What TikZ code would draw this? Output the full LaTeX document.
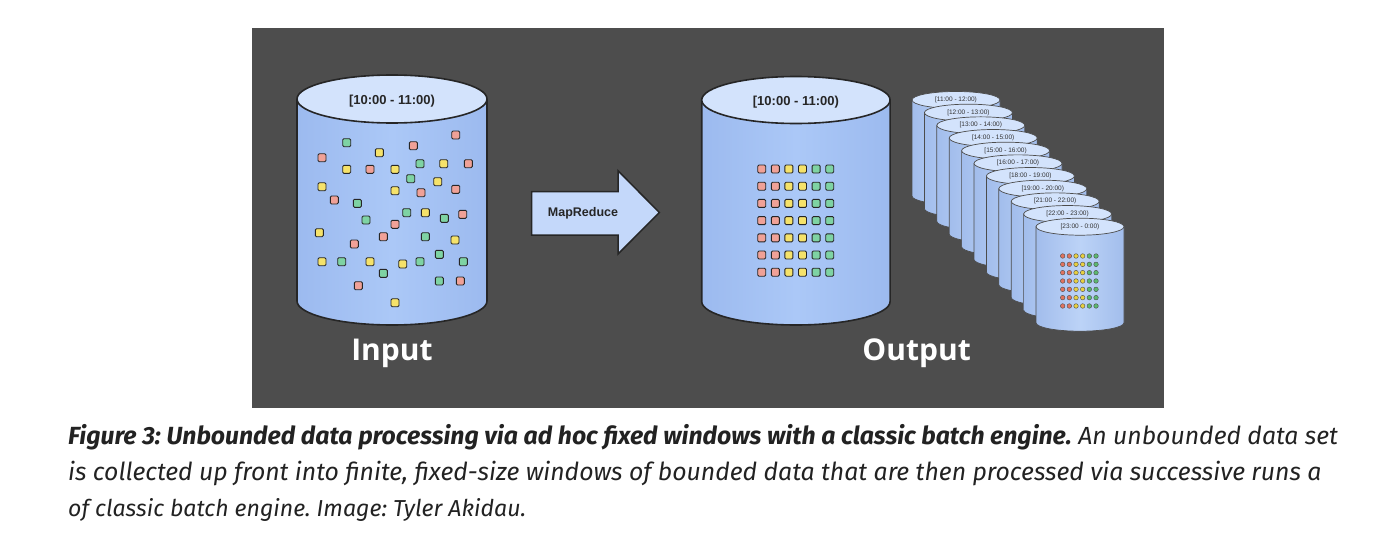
\documentclass[tikz,border=0pt]{standalone}
\usepackage{fontspec}
\setmainfont{Fira Sans}
\newfontfamily\winfont{Liberation Sans}
\newfontfamily\tagfont{Open Sans}
\frenchspacing
\definecolor{panelgray}{HTML}{4D4D4D}
\definecolor{cylblue}{HTML}{ABC8F7}
\definecolor{cyledge}{HTML}{9CBAEF}
\definecolor{cyltop}{HTML}{D3E3FC}
\definecolor{stackblue}{HTML}{BCD3F7}
\definecolor{stackedge}{HTML}{A2BDEC}
\definecolor{sqp}{HTML}{F0A197}
\definecolor{sqy}{HTML}{F5E26A}
\definecolor{sqg}{HTML}{7ED3A3}
\definecolor{dotp}{HTML}{E0735F}
\definecolor{doty}{HTML}{E8D040}
\definecolor{dotg}{HTML}{5CB870}
\definecolor{arrowblue}{HTML}{C4D8FA}
\definecolor{capgray}{HTML}{222222}
\begin{document}
\begin{tikzpicture}[x=1pt,y=-1pt,
  cylside/.style={draw=black!85,line width=1.6pt,left color=cyledge,right color=cyledge,middle color=cylblue},
  cylcap/.style={draw=black!85,line width=1.6pt,fill=cyltop},
  stackside/.style={draw=black!70,line width=0.7pt,left color=stackedge,right color=stackedge,middle color=stackblue},
  stackcap/.style={draw=black!70,line width=0.7pt,fill=cyltop},
  datum/.style={draw=black!85,line width=0.9pt,rounded corners=1.2pt,minimum size=8pt,inner sep=0pt},
  dot/.style={circle,draw=black!70,line width=0.4pt,minimum size=4.6pt,inner sep=0pt},
  winlabel/.style={font=\winfont\bfseries\fontsize{13}{15}\selectfont,text=black!85},
  stacklabel/.style={font=\winfont\fontsize{6.5}{7}\selectfont,text=black!80,inner sep=0pt},
  biglabel/.style={font=\tagfont\bfseries\fontsize{30}{36}\selectfont,text=white},
  caption/.style={anchor=base west,inner sep=0pt,text=capgray,font=\fontsize{24.8}{28}\selectfont\itshape}]
\useasboundingbox (0,0) rectangle (1378,554);
\fill[white] (0,0) rectangle (1378,554);
\fill[panelgray] (252,28) rectangle (1164,408);

\draw[cylside] (297,99) -- (297,301) arc[start angle=180,end angle=0,x radius=95,y radius=24] -- (487,99);
\draw[cylcap] (392,99) ellipse[x radius=95,y radius=24];
\node[winlabel] (inwin) at (392,101) {[10:00 - 11:00)};
\foreach \x/\y/\c [count=\i] in {346.7/142.7/g, 455.7/135/p, 413.3/145.7/p, 379.3/152.7/y, 322/157.7/p,
    420/163.7/g, 443.7/163.7/y, 468.3/163.7/p, 346.7/169.3/y, 370/169.3/p, 395/169.3/y,
    410.7/178.7/g, 437.7/181.7/y, 322/186.7/y, 395/190.7/y, 421/192.7/p, 455.7/189.3/p,
    334.3/200/p, 357.3/203.3/g, 406.7/212.7/g, 425.3/212.7/y, 444.3/218.3/g, 462.7/214.3/p,
    366/220/g, 395/224.3/p, 319.3/232.7/y, 383.3/236.7/p, 425.3/236.7/g, 455/240/y,
    354.3/244/p, 439.3/254.3/g, 322/261.7/y, 341.7/261.7/g, 370/261.7/y, 402.7/264/y,
    420/261.7/g, 463.3/261.7/g, 383.3/273.3/g, 358.3/285.7/p, 439.3/281/g, 460.3/281/p, 395/302.7/y}
  \node[datum,fill=sq\c] (in\i) at (\x,\y) {};

\draw[draw=black!85,line width=1.5pt,fill=arrowblue] (531.7,191.7) -- (618,191.7) -- (618,170.7) -- (659.3,212.5)
  -- (618,254) -- (618,235) -- (531.7,235) -- cycle;
\node[font=\winfont\bfseries\fontsize{12.5}{14}\selectfont,text=black!85] (mr) at (583,213) {MapReduce};

\draw[cylside] (701.7,100) -- (701.7,301.5) arc[start angle=180,end angle=0,x radius=94.2,y radius=23.5] -- (890.1,100);
\draw[cylcap] (795.9,100) ellipse[x radius=94.2,y radius=23.5];
\node[winlabel] (outwin) at (795.9,102) {[10:00 - 11:00)};
\foreach \c [count=\k] in {p,p,y,y,g,g}
  \foreach \r in {0,...,6}
    \node[datum,fill=sq\c] (out\k-\r) at ({748.1+13.6*\k},{169+17.2*\r}) {};

\foreach \a/\b [count=\i from 0] in {11/12,12/13,13/14,14/15,15/16,16/17,18/19,19/20,21/22,22/23,23/0} {
  \pgfmathsetmacro\cx{956+12.4*\i}
  \pgfmathsetmacro\ty{100+12.67*\i}
  \draw[stackside] ({\cx-44},\ty) -- ({\cx-44},{\ty+96}) arc[start angle=180,end angle=0,x radius=44,y radius=8.5] -- ({\cx+44},\ty);
  \draw[stackcap] (\cx,\ty) ellipse[x radius=44,y radius=8.5];
  \node[stacklabel] (win\i) at (\cx,{\ty-0.3}) {[\a:00 - \b:00)};
}
\foreach \c [count=\k] in {p,p,y,y,g,g}
  \foreach \r in {0,...,6}
    \node[dot,fill=dot\c] (fr\k-\r) at ({1056+6.67*\k},{256+8.33*\r}) {};

\node[biglabel] (input) at (392,353) {Input};
\node[biglabel] (output) at (916.6,353) {Output};

\node[caption] (cap1) at (68,444.7) {\bfseries Figure 3: Unbounded data processing via ad hoc fixed windows with a classic batch engine.\mdseries{} An unbounded data set};
\node[caption] (cap2) at (68,480.6) {is collected up front into finite, fixed-size windows of bounded data that are then processed via successive runs a};
\node[caption,font=\fontsize{23.1}{28}\selectfont\itshape] (cap3) at (68,516.5) {of classic batch engine. Image: Tyler Akidau.};
\end{tikzpicture}
\end{document}
